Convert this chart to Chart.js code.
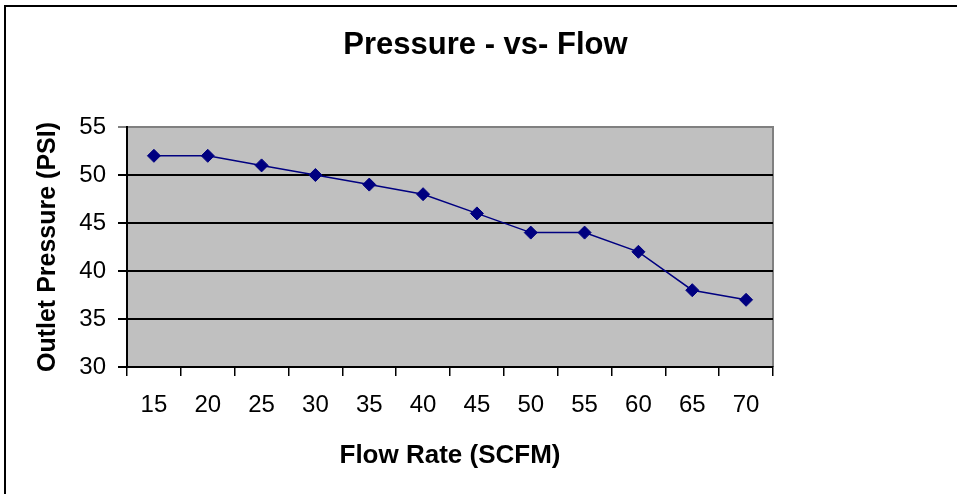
<!DOCTYPE html>
<html>
<head>
<meta charset="utf-8">
<script src="https://cdn.jsdelivr.net/npm/chart.js@4.4.1/dist/chart.umd.min.js"></script>
<style>
  html, body { margin: 0; padding: 0; background: #fff; }
  #wrap { position: relative; width: 957px; height: 494px; }
  #frame { position: absolute; left: 4px; top: 5px; right: -10px; bottom: -10px;
           border-left: 2px solid #000; border-top: 2px solid #000; pointer-events: none; }
  canvas { position: absolute; left: 0; top: 0; }
</style>
</head>
<body>
<div id="wrap">
  <canvas id="chart" width="957" height="494"></canvas>
  <div id="frame"></div>
</div>
<script>
// data
const flowRates = ['15', '20', '25', '30', '35', '40', '45', '50', '55', '60', '65', '70'];
const outletPressure = [52, 52, 51, 50, 49, 48, 46, 44, 44, 42, 38, 37];
const pressureTicks = [30, 35, 40, 45, 50, 55];

const FONT = "'Liberation Sans', Arial, sans-serif";

// grey plot area like the old Excel charts
const plotBackground = {
    id: 'plotBackground',
    beforeDraw(chart) {
        let a = chart.chartArea;
        let ctx = chart.ctx;
        ctx.save();
        ctx.fillStyle = '#C0C0C0';
        ctx.fillRect(a.left, a.top, a.right - a.left, a.bottom - a.top);
        ctx.strokeStyle = '#808080';
        ctx.lineWidth = 2;
        ctx.beginPath();
        ctx.moveTo(a.left, a.top);
        ctx.lineTo(a.right, a.top);
        ctx.lineTo(a.right, a.bottom);
        ctx.stroke();
        ctx.restore();
    }
};

let ctx = document.getElementById('chart').getContext('2d');
let pressureChart = new Chart(ctx, {
    type: 'line',
    data: {
        labels: flowRates,
        datasets: [{
            label: 'Outlet Pressure',
            data: outletPressure,
            borderColor: '#000080',
            backgroundColor: '#000080',
            borderWidth: 1.5,
            pointStyle: 'rectRot',
            pointRadius: 6.5,
            pointBorderWidth: 1,
            tension: 0,
            fill: false
        }]
    },
    options: {
        responsive: false,
        animation: false,
        layout: { padding: { left: 14, right: 0, top: 0, bottom: 0 } },
        plugins: {
            legend: { display: false },
            tooltip: { enabled: false },
            title: {
                display: true,
                text: 'Pressure - vs- Flow',
                color: '#000',
                font: { family: FONT, size: 31, weight: 'bold', lineHeight: 1.2 },
                padding: { top: 26.4, bottom: 63.4 }
            }
        },
        scales: {
            x: {
                type: 'category',
                offset: true,
                afterFit: (scale) => { scale.height = 127; },
                grid: {
                    offset: true,
                    drawOnChartArea: false,
                    drawTicks: true,
                    tickLength: 9,
                    color: '#000',
                    lineWidth: 1.5
                },
                border: { display: true, color: '#000', width: 2 },
                ticks: {
                    color: '#000',
                    font: { family: FONT, size: 24 },
                    padding: 15,
                    maxRotation: 0,
                    autoSkip: false
                },
                title: {
                    display: true,
                    text: 'Flow Rate (SCFM)',
                    color: '#000',
                    font: { family: FONT, size: 26, weight: 'bold', lineHeight: 1.2 },
                    padding: { top: 0, bottom: 22.4 }
                }
            },
            y: {
                min: 30,
                max: 55,
                afterFit: (scale) => { scale.width = 113; },
                afterBuildTicks: (scale) => {
                    scale.ticks = pressureTicks.map(v => ({ value: v }));
                },
                grid: {
                    drawTicks: true,
                    tickLength: 9,
                    color: (c) => (c.tick && c.tick.value === 55 ? '#808080' : '#000'),
                    lineWidth: 2
                },
                border: { display: true, color: '#000', width: 2 },
                ticks: {
                    color: '#000',
                    font: { family: FONT, size: 24 },
                    padding: 12
                },
                title: {
                    display: true,
                    text: 'Outlet Pressure (PSI)',
                    color: '#000',
                    font: { family: FONT, size: 25, weight: 'bold', lineHeight: 1.2 },
                    padding: { top: 19, bottom: 0 }
                }
            },
            // empty right-hand space that the Excel chart leaves beside the plot
            yRight: {
                position: 'right',
                min: 30,
                max: 55,
                afterFit: (scale) => { scale.width = 184; },
                grid: { drawOnChartArea: false, drawTicks: false },
                border: { display: false },
                ticks: { display: false }
            }
        }
    },
    plugins: [plotBackground]
});
</script>
</body>
</html>
